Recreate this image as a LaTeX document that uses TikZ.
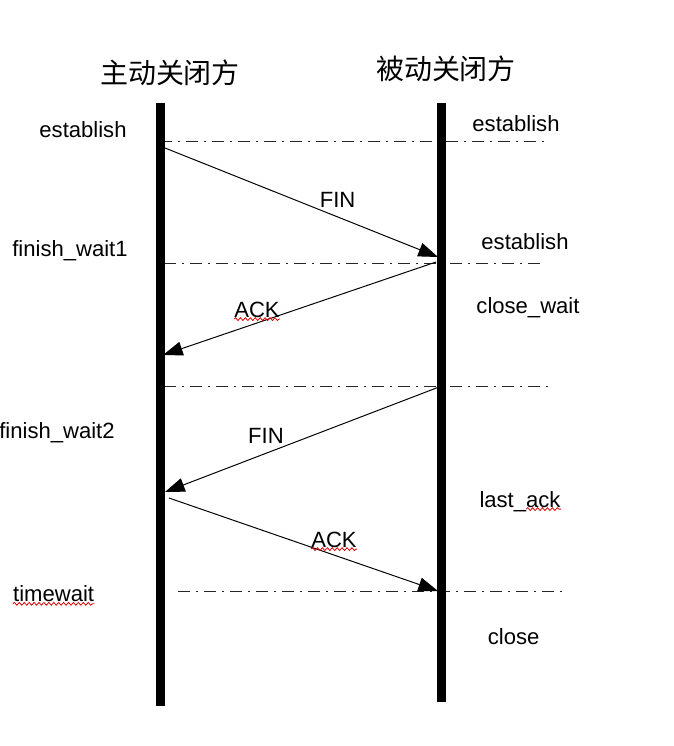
\documentclass[tikz,border=0pt]{standalone}
\usepackage{fontspec}
\setmainfont{Liberation Sans}
\newfontfamily\cjk{Noto Sans CJK SC}
\usetikzlibrary{arrows.meta, calc, decorations.pathmorphing}

\begin{document}
\begin{tikzpicture}[
    state/.style={font=\fontsize{15.7}{19}\selectfont, inner sep=0pt, anchor=base},
    side/.style={font=\cjk\fontsize{19.9}{24}\selectfont, inner sep=0pt},
    lifeline/.style={line width=6.3pt},
    phase/.style={line width=0.7pt, black!85, dash pattern=on 8.5pt off 4.5pt on 1pt off 4.5pt},
    msg/.style={line width=0.7pt, -{Triangle[length=14pt, width=10pt]}},
    squiggle/.style={red!85!black, line width=0.55pt, decorate,
                     decoration={snake, segment length=3.5pt, amplitude=1pt}}
  ]
  \useasboundingbox (0,0) rectangle (16.825,-18.65);

  % Two sides
  \node[side] (active) at (4.25,-1.825) {主动关闭方};
  \node[side] (passive) at (11.15,-1.725) {被动关闭方};

  % Phase separators
  \coordinate (ph1s) at (4.0,-3.525);   \coordinate (ph1e) at (13.75,-3.525);
  \coordinate (ph2s) at (4.1,-6.575);   \coordinate (ph2e) at (13.625,-6.575);
  \coordinate (ph3s) at (4.1,-9.65);    \coordinate (ph3e) at (13.75,-9.65);
  \coordinate (ph4s) at (4.45,-14.775); \coordinate (ph4e) at (14.2,-14.775);
  \draw[phase] (ph1s) -- (ph1e);
  \draw[phase] (ph2s) -- (ph2e);
  \draw[phase] (ph3s) -- (ph3e);
  \draw[phase] (ph4s) -- (ph4e);

  % Lifelines
  \coordinate (aTop) at (4.01,-2.575);
  \coordinate (aBot) at (4.01,-17.65);
  \coordinate (pTop) at (11.04,-2.575);
  \coordinate (pBot) at (11.04,-17.55);
  \draw[lifeline] (aTop) -- (aBot);
  \draw[lifeline] (pTop) -- (pBot);

  % Messages
  \coordinate (finAs) at (4.125,-3.7);   \coordinate (finAe) at (10.95,-6.425);
  \coordinate (ackAs) at (10.9,-6.55);   \coordinate (ackAe) at (4.075,-8.875);
  \coordinate (finBs) at (10.975,-9.675); \coordinate (finBe) at (4.125,-12.3);
  \coordinate (ackBs) at (4.225,-12.45); \coordinate (ackBe) at (10.95,-14.775);
  \draw[msg] (finAs) -- (finAe);
  \draw[msg] (ackAs) -- (ackAe);
  \draw[msg] (finBs) -- (finBe);
  \draw[msg] (ackBs) -- (ackBe);

  \node[state] (finA) at (8.44,-5.175) {FIN};
  \node[state] (ackA) at (6.425,-7.925) {ACK};
  \node[state] (finB) at (6.65,-11.075) {FIN};
  \node[state] (ackB) at (8.35,-13.675) {ACK};

  % States of the active side
  \node[state] (estA) at (2.075,-3.45) {establish};
  \node[state] (fw1) at (1.75,-6.4) {finish\_wait1};
  \node[state] (fw2) at (1.425,-10.95) {finish\_wait2};
  \node[state] (tw) at (1.34,-15.025) {timewait};

  % States of the passive side
  \node[state] (estB) at (12.9,-3.275) {establish};
  \node[state] (estC) at (13.125,-6.225) {establish};
  \node[state] (cw) at (13.2,-7.825) {close\_wait};
  \node[state] (la) at (13.0,-12.675) {last\_ack};
  \node[state] (cl) at (12.84,-16.1) {close};

  % Spell-check marks
  \draw[squiggle] ([yshift=-1.5pt]ackA.base west) -- ([yshift=-1.5pt]ackA.base east);
  \draw[squiggle] ([yshift=-1.5pt]ackB.base west) -- ([yshift=-1.5pt]ackB.base east);
  \draw[squiggle] ([yshift=-2pt]tw.base west) -- ([yshift=-2pt]tw.base east);
  \draw[squiggle] ([yshift=-1.5pt]$(la.base east)!0.424!(la.base west)$) -- ([yshift=-1.5pt]la.base east);
\end{tikzpicture}
\end{document}
